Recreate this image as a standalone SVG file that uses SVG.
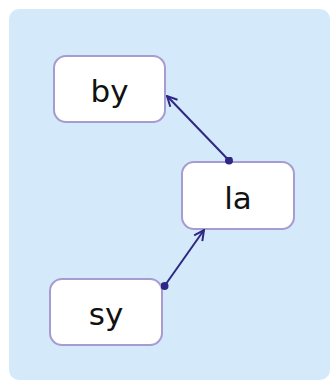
<svg xmlns="http://www.w3.org/2000/svg" width="330" height="382" viewBox="0 0 330 382">
<style>
.node rect{fill:#ffffff;stroke:#a79bd0;stroke-width:2}
.node text{font-family:"DejaVu Sans",sans-serif;font-size:31px;fill:#111111;text-anchor:middle}
.edge{stroke:#2e2785;stroke-width:2;fill:none}
</style>
<defs>
<marker id="arr" viewBox="0 0 12 12" refX="11" refY="6" markerWidth="12" markerHeight="12" markerUnits="userSpaceOnUse" orient="auto">
<path d="M1,1 L11,6 L1,11" fill="none" stroke="#2e2785" stroke-width="2"/>
</marker>
<marker id="dot" viewBox="0 0 8 8" refX="4" refY="4" markerWidth="8" markerHeight="8" markerUnits="userSpaceOnUse">
<circle cx="4" cy="4" r="4" fill="#2e2785"/>
</marker>
</defs>
<rect x="9" y="9" width="321" height="371" rx="10" fill="#d4eafa"/>
<g id="by" class="node"><rect x="54" y="56" width="111" height="66" rx="12"/><text x="109.5" y="102">by</text></g>
<g id="la" class="node"><rect x="182" y="162" width="112" height="67" rx="12"/><text x="238" y="209">la</text></g>
<g id="sy" class="node"><rect x="50" y="279" width="112" height="66" rx="12"/><text x="106" y="325">sy</text></g>
<g id="connectors">
<line class="edge" x1="229" y1="160.5" x2="167" y2="96" marker-start="url(#dot)" marker-end="url(#arr)"/>
<line class="edge" x1="164.5" y1="286" x2="204" y2="230" marker-start="url(#dot)" marker-end="url(#arr)"/>
</g>
</svg>
